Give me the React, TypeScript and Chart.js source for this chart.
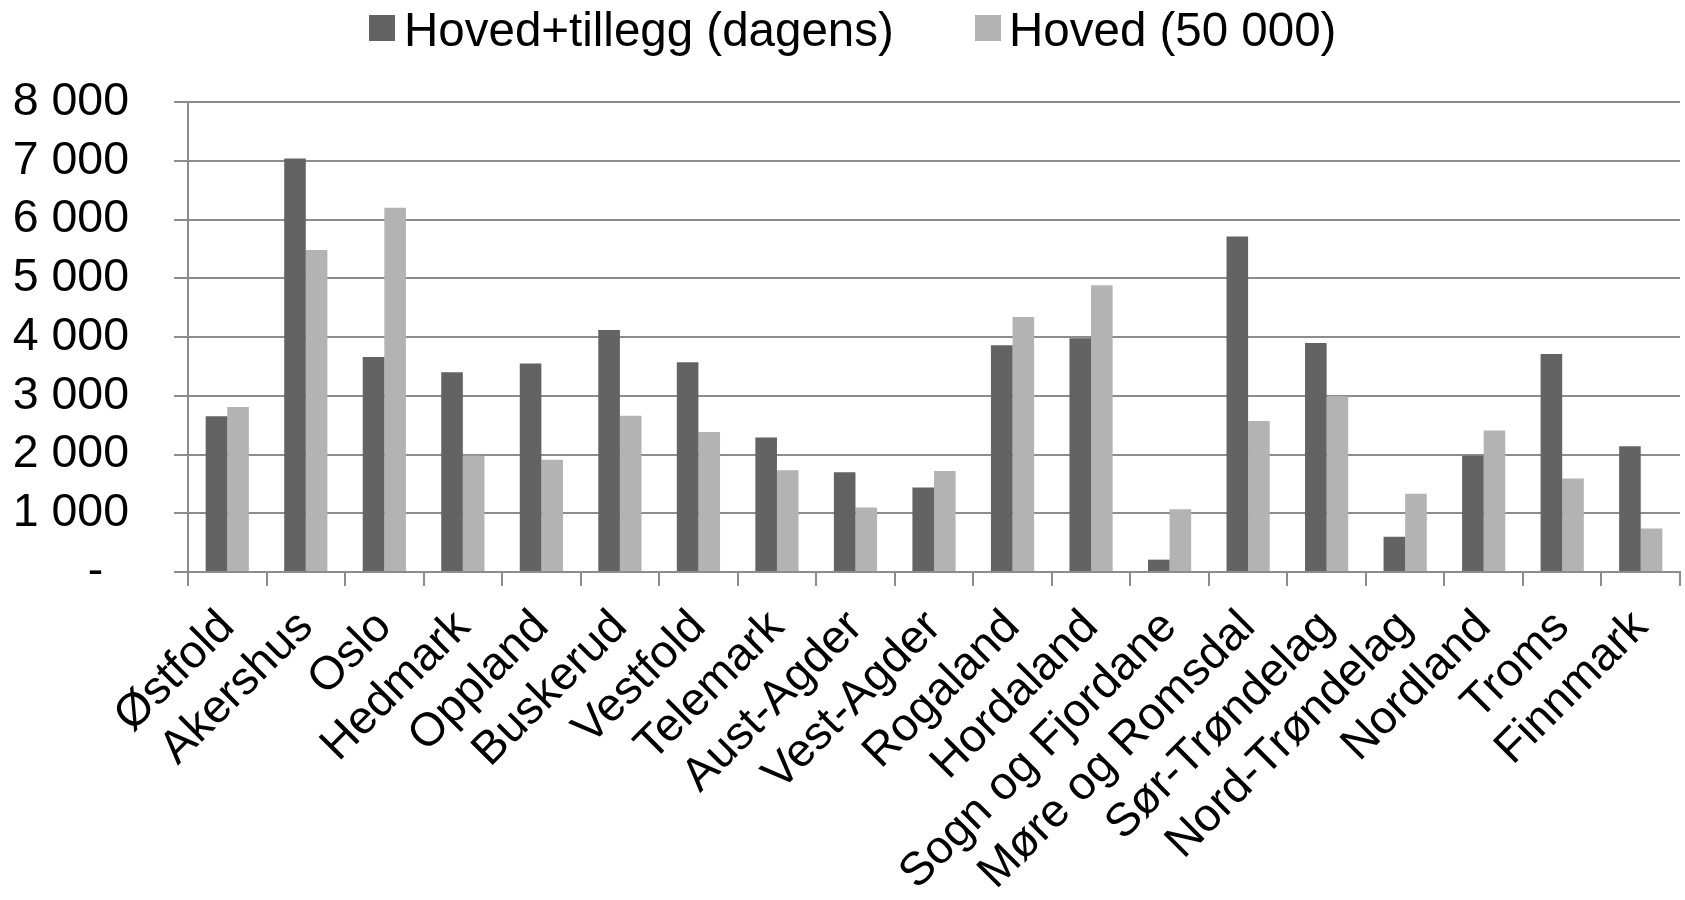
import React, { useEffect, useRef } from "react";
import { Chart, registerables } from "chart.js";

Chart.register(...registerables);

const categories = [
  "Østfold",
  "Akershus",
  "Oslo",
  "Hedmark",
  "Oppland",
  "Buskerud",
  "Vestfold",
  "Telemark",
  "Aust-Agder",
  "Vest-Agder",
  "Rogaland",
  "Hordaland",
  "Sogn og Fjordane",
  "Møre og Romsdal",
  "Sør-Trøndelag",
  "Nord-Trøndelag",
  "Nordland",
  "Troms",
  "Finnmark",
];

const hovedTillegg = [2650, 7040, 3660, 3400, 3550, 4120, 3570, 2290, 1700, 1440, 3860, 3980, 210, 5710, 3900, 600, 1980, 3710, 2140];
const hoved = [2810, 5480, 6200, 1980, 1910, 2660, 2385, 1730, 1100, 1720, 4340, 4880, 1070, 2570, 2990, 1330, 2410, 1590, 740];

const seriesLabels = ["Hoved+tillegg (dagens)", "Hoved (50 000)"];
const seriesColors = ["#636363", "#b3b3b3"];

const yMin = 0;
const yMax = 8000;
const yStep = 1000;

const FONT = "'Liberation Sans', Arial, Helvetica, sans-serif";
const GRID = "#8c8c8c";

function formatTick(v: number): string {
  if (v === 0) return "-  ";
  const s = Math.round(v).toString();
  return s.replace(/\B(?=(\d{3})+(?!\d))/g, " ");
}

export default function App() {
  const ref = useRef<HTMLCanvasElement | null>(null);

  useEffect(() => {
    if (!ref.current) return;
    const chart = new Chart(ref.current, {
      type: "bar",
      data: {
        labels: categories,
        datasets: [
          {
            label: seriesLabels[0],
            data: hovedTillegg,
            backgroundColor: seriesColors[0],
            borderWidth: 0,
            categoryPercentage: 0.55,
            barPercentage: 1.0,
          },
          {
            label: seriesLabels[1],
            data: hoved,
            backgroundColor: seriesColors[1],
            borderWidth: 0,
            categoryPercentage: 0.55,
            barPercentage: 1.0,
          },
        ],
      },
      options: {
        animation: false,
        responsive: false,
        devicePixelRatio: 1,
        layout: { padding: { top: 102, right: 5, left: 0, bottom: 0 } },
        plugins: {
          legend: { display: false },
          tooltip: { enabled: false },
        },
        scales: {
          x: {
            offset: true,
            grid: {
              offset: true,
              drawOnChartArea: false,
              drawTicks: true,
              tickLength: 14,
              color: GRID,
              lineWidth: 2,
            },
            border: { display: true, color: GRID, width: 2 },
            ticks: {
              autoSkip: false,
              maxRotation: 45,
              minRotation: 45,
              padding: 14,
              color: "#000",
              font: { family: FONT, size: 46.5 },
            },
            afterFit: (scale: any) => {
              scale.height = 328;
              scale.paddingLeft = 0;
              scale.paddingRight = 0;
            },
          },
          y: {
            min: yMin,
            max: yMax,
            grid: {
              drawTicks: true,
              tickLength: 14,
              color: GRID,
              lineWidth: 2,
            },
            border: { display: true, color: GRID, width: 2 },
            ticks: {
              stepSize: yStep,
              autoSkip: false,
              padding: 45,
              color: "#000",
              font: { family: FONT, size: 46.5 },
              callback: (v: any) => formatTick(Number(v)),
            },
            afterFit: (scale: any) => {
              scale.width = 188;
            },
          },
        },
      },
    });
    return () => chart.destroy();
  }, []);

  const legendText: React.CSSProperties = {
    position: "absolute",
    top: 6,
    fontFamily: FONT,
    fontSize: 47.5,
    lineHeight: "47.5px",
    color: "#000",
    whiteSpace: "nowrap",
  };
  const box: React.CSSProperties = {
    position: "absolute",
    top: 15,
    width: 26,
    height: 26,
  };

  return (
    <div style={{ position: "fixed", left: 0, top: 0, width: 1685, height: 900, background: "#fff" }}>
      <canvas ref={ref} width={1685} height={900} style={{ position: "absolute", left: 0, top: 0 }} />
      <div style={{ ...box, left: 369, background: seriesColors[0] }} />
      <div style={{ ...legendText, left: 404 }}>{seriesLabels[0]}</div>
      <div style={{ ...box, left: 975, background: seriesColors[1] }} />
      <div style={{ ...legendText, left: 1009 }}>{seriesLabels[1]}</div>
    </div>
  );
}
